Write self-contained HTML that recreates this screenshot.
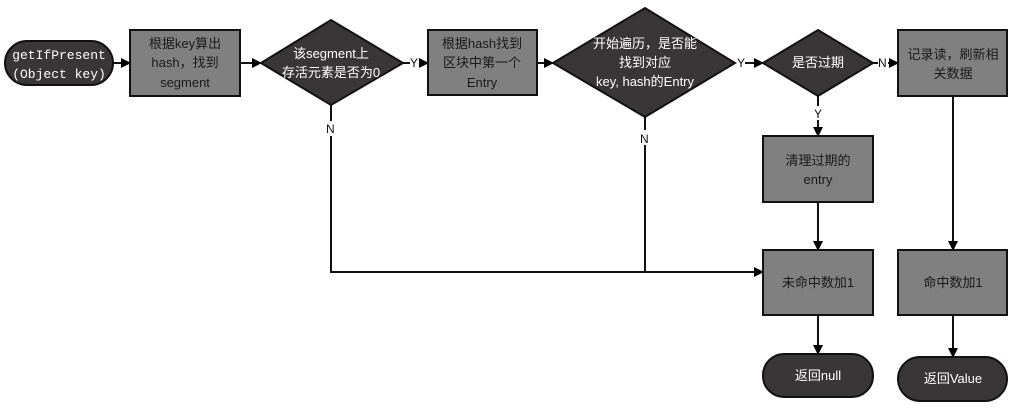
<!DOCTYPE html>
<html><head><meta charset="utf-8"><style>body{margin:0;background:#fff}svg{display:block}</style></head><body>
<svg width="1019" height="410" xmlns="http://www.w3.org/2000/svg" font-family="Liberation Sans, Noto Sans CJK SC, sans-serif" font-size="13">
<defs><marker id="a" markerWidth="10" markerHeight="10" refX="9" refY="5" orient="auto" markerUnits="userSpaceOnUse"><path d="M0,0 L10,5 L0,10 z" fill="#000"/></marker></defs>
<g stroke="#111" stroke-width="2" fill="none">
<line x1="113" y1="63" x2="130" y2="63" marker-end="url(#a)"/>
<line x1="240" y1="63" x2="261" y2="63" marker-end="url(#a)"/>
<line x1="403" y1="63" x2="410" y2="63"/><line x1="420" y1="63" x2="428" y2="63" marker-end="url(#a)"/>
<line x1="537" y1="63" x2="553" y2="63" marker-end="url(#a)"/>
<line x1="745" y1="63" x2="763" y2="63" marker-end="url(#a)"/>
<line x1="873" y1="63" x2="878" y2="63"/><line x1="888" y1="63" x2="898" y2="63" marker-end="url(#a)"/>
<line x1="818" y1="96" x2="818" y2="106"/><line x1="818" y1="120" x2="818" y2="136" marker-end="url(#a)"/>
<line x1="818" y1="202" x2="818" y2="250" marker-end="url(#a)"/>
<line x1="953" y1="96" x2="953" y2="250" marker-end="url(#a)"/>
<line x1="818" y1="315" x2="818" y2="354" marker-end="url(#a)"/>
<line x1="953" y1="315" x2="953" y2="357" marker-end="url(#a)"/>
<polyline points="331,105 331,121"/><polyline points="331,136 331,272 763,272" marker-end="url(#a)"/>
<polyline points="645,117 645,130"/><polyline points="645,145 645,272"/>
</g>
<g font-size="12" fill="#111">
<text x="410" y="67">Y</text><text x="737" y="67">Y</text><text x="878" y="67">N</text>
<text x="814" y="118">Y</text><text x="326" y="133">N</text><text x="640" y="143">N</text>
</g>
<g stroke="#111" stroke-width="2">
<rect x="5" y="41" width="108" height="44" rx="22" fill="#3a3536"/>
<rect x="130" y="30" width="110" height="66" fill="#808080"/>
<polygon points="261,63 331,20 403,63 331,105" fill="#3a3536"/>
<rect x="428" y="30" width="109" height="65" fill="#808080"/>
<polygon points="553,63 645,8 735,63 645,117" fill="#3a3536"/>
<polygon points="763,63 818,30 873,63 818,96" fill="#3a3536"/>
<rect x="898" y="30" width="109" height="66" fill="#808080"/>
<rect x="763" y="136" width="110" height="66" fill="#808080"/>
<rect x="763" y="250" width="110" height="65" fill="#808080"/>
<rect x="898" y="250" width="109" height="65" fill="#808080"/>
<rect x="763" y="354" width="110" height="43" rx="21" fill="#3a3536"/>
<rect x="898" y="357" width="109" height="44" rx="22" fill="#3a3536"/>
</g>
<g text-anchor="middle" fill="#fff">
<text x="59" y="59" font-family="Liberation Mono, monospace" font-size="13">getIfPresent</text>
<text x="59" y="78" font-family="Liberation Mono, monospace" font-size="13">(Object key)</text>
<text x="331" y="58">该segment上</text><text x="331" y="77">存活元素是否为0</text>
<text x="645" y="48">开始遍历，是否能</text><text x="645" y="67">找到对应</text><text x="645" y="86">key, hash的Entry</text>
<text x="818" y="67">是否过期</text>
<text x="818" y="380">返回null</text><text x="953" y="383">返回Value</text>
</g>
<g text-anchor="middle" fill="#1a1a1a">
<text x="185" y="48">根据key算出</text><text x="185" y="67">hash，找到</text><text x="185" y="87">segment</text>
<text x="482" y="48">根据hash找到</text><text x="482" y="67">区块中第一个</text><text x="482" y="87">Entry</text>
<text x="953" y="59">记录读，刷新相</text><text x="953" y="78">关数据</text>
<text x="818" y="165">清理过期的</text><text x="818" y="184">entry</text>
<text x="818" y="287">未命中数加1</text><text x="953" y="287">命中数加1</text>
</g>
</svg>
</body></html>
